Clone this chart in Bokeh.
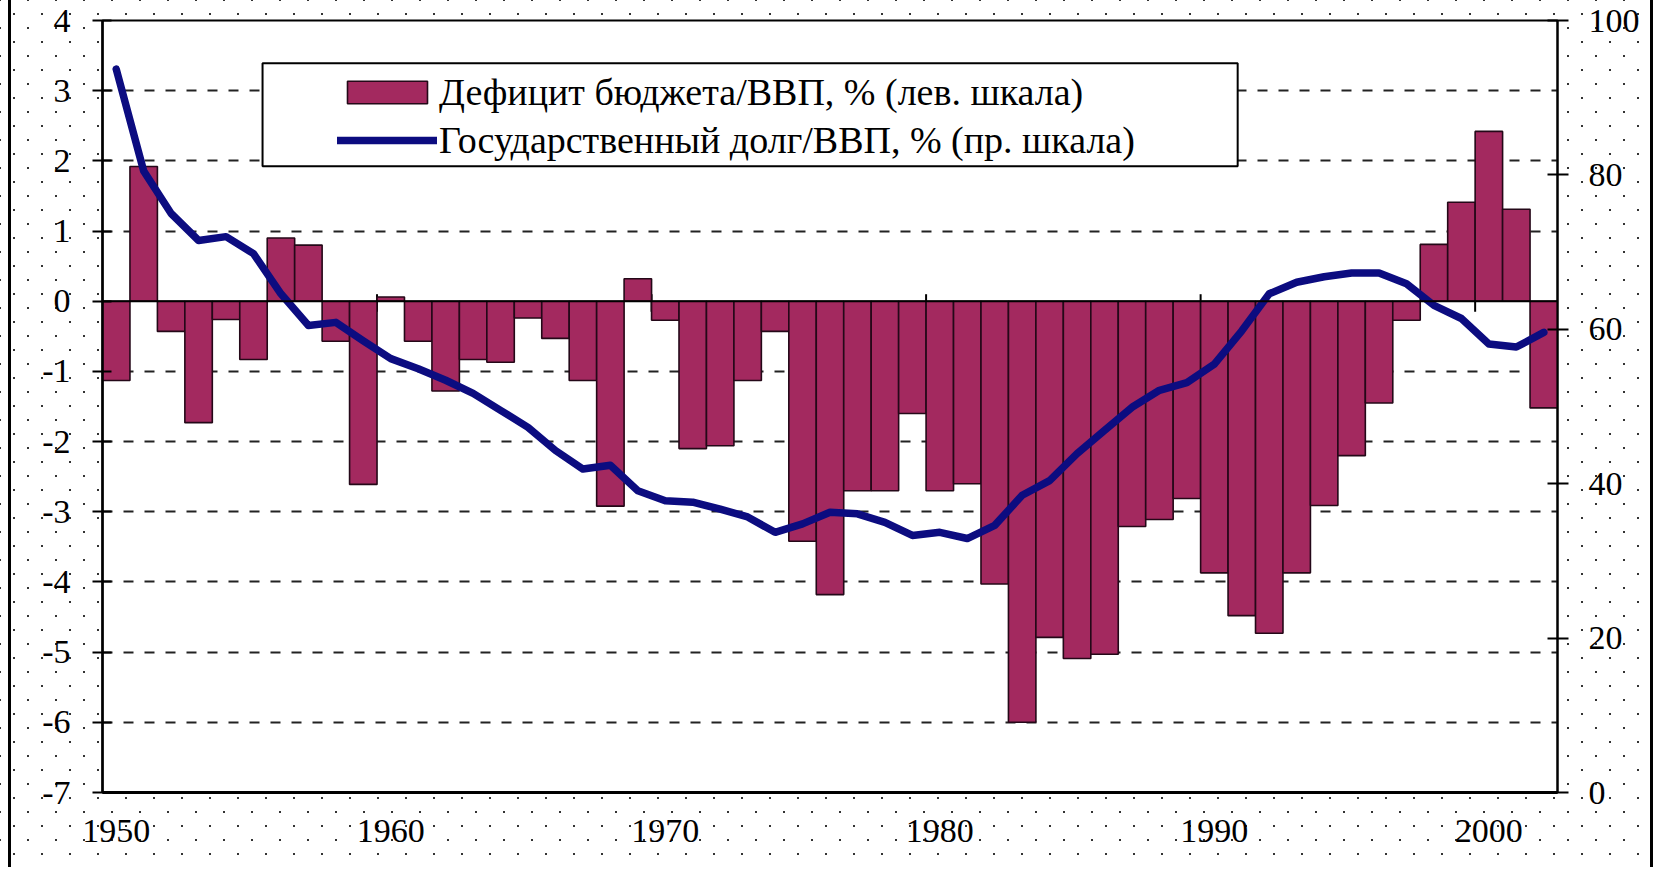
from bokeh.plotting import figure
from bokeh.models import (Range1d, LinearAxis, FixedTicker, Span, Legend, LegendItem,
                          BoxAnnotation, InlineStyleSheet, ColumnDataSource)
from bokeh.embed import file_html
from bokeh.resources import INLINE

years = list(range(1950, 2003))
deficit = [-1.13, 1.92, -0.43, -1.73, -0.26, -0.83, 0.90, 0.80, -0.57, -2.61,
           0.06, -0.57, -1.28, -0.83, -0.87, -0.24, -0.53, -1.13, -2.92, 0.32,
           -0.27, -2.10, -2.06, -1.13, -0.43, -3.42, -4.18, -2.70, -2.70, -1.60,
           -2.70, -2.60, -4.03, -6.00, -4.79, -5.09, -5.03, -3.21, -3.11, -2.81,
           -3.87, -4.48, -4.73, -3.87, -2.91, -2.20, -1.45, -0.27, 0.81, 1.41,
           2.42, 1.31, -1.52]
debt = [93.7, 80.5, 75.0, 71.5, 72.0, 69.8, 64.6, 60.5, 60.9, 58.5,
        56.2, 54.9, 53.4, 51.7, 49.5, 47.3, 44.3, 41.9, 42.4, 39.1,
        37.8, 37.6, 36.7, 35.7, 33.7, 34.8, 36.3, 36.1, 35.0, 33.3,
        33.7, 32.9, 34.6, 38.5, 40.4, 43.9, 46.9, 49.9, 52.1, 53.1,
        55.5, 59.8, 64.6, 66.1, 66.8, 67.3, 67.3, 65.9, 63.1, 61.4,
        58.1, 57.7, 59.6]
left_ticks = list(range(-7, 5))
right_ticks = [0, 20, 40, 60, 80, 100]
year_ticks = [1950, 1960, 1970, 1980, 1990, 2000]
label_deficit = "Дефицит бюджета/ВВП, % (лев. шкала)"
label_debt = "Государственный долг/ВВП, % (пр. шкала)"

FONT = "Liberation Serif"
FS = "34px"
LFS = "38px"

src = ColumnDataSource(dict(year=years, deficit=deficit, debt=debt))

p = figure(width=1654, height=867, output_backend="svg", toolbar_location=None,
           x_range=Range1d(years[0] - 0.5, years[-1] + 0.5),
           y_range=Range1d(left_ticks[0], left_ticks[-1]),
           min_border_left=102, min_border_right=97, min_border_top=20, min_border_bottom=75,
           background_fill_color="white", border_fill_color=None,
           outline_line_color="black", outline_line_width=2)
p.extra_y_ranges = {"debt": Range1d(right_ticks[0], right_ticks[-1])}

p.stylesheets = [InlineStyleSheet(css="""
:host {
  background-color: white;
  background-image:
    linear-gradient(to right, rgba(0,0,0,0) 8px, #000 8px, #000 11px, rgba(0,0,0,0) 11px,
                    rgba(0,0,0,0) calc(100% - 4px), #000 calc(100% - 4px), #000 calc(100% - 1px), rgba(0,0,0,0) calc(100% - 1px)),
    radial-gradient(circle, #333 0.9px, rgba(255,255,255,0) 1.3px),
    radial-gradient(circle, #333 0.9px, rgba(255,255,255,0) 1.3px);
  background-size: 100% 100%, 28px 28px, 28px 28px;
  background-repeat: no-repeat, repeat, repeat;
  background-position: 0px 0px, 0px 0px, 14px 14px;
}
""")]

# grid
p.xgrid.visible = False
p.ygrid.ticker = FixedTicker(ticks=[t for t in left_ticks if t not in (0, left_ticks[0], left_ticks[-1])])
p.ygrid.grid_line_color = "#222222"
p.ygrid.grid_line_width = 2
p.ygrid.grid_line_dash = "10 11"

# decade ticks crossing the zero axis
dec = [y - 0.5 for y in year_ticks[1:]]
p.segment(x0=dec, x1=dec, y0=[-0.15] * len(dec), y1=[0.1] * len(dec),
          line_color="black", line_width=2)

bars = p.vbar(x="year", top="deficit", bottom=0, width=1.0, source=src,
              fill_color="#A3295F", line_color="#240818", line_width=1.6)

p.add_layout(Span(location=0, dimension="width", line_color="black", line_width=2))

line = p.line(x="year", y="debt", y_range_name="debt", source=src,
              line_color="#0C0C80", line_width=7.5, line_join="round", line_cap="round")

# left axis
ya = p.yaxis[0]
ya.ticker = FixedTicker(ticks=left_ticks)
ya.major_label_overrides = {t: str(t) for t in left_ticks}
ya.major_tick_in = 9
ya.major_tick_out = 10
ya.minor_tick_in = 0
ya.minor_tick_out = 0
ya.major_label_standoff = 22
ya.axis_line_width = 2.5
ya.major_tick_line_width = 2

# bottom axis
xa = p.xaxis[0]
xa.ticker = FixedTicker(ticks=year_ticks)
xa.major_tick_in = 0
xa.major_tick_out = 0
xa.minor_tick_in = 0
xa.minor_tick_out = 0
xa.major_label_standoff = 27
xa.axis_line_width = 3

# right axis
ra = LinearAxis(y_range_name="debt", ticker=FixedTicker(ticks=right_ticks))
ra.major_tick_in = 10
ra.major_tick_out = 11
ra.minor_tick_in = 0
ra.minor_tick_out = 0
ra.major_label_standoff = 20
ra.axis_line_width = 2
ra.major_tick_line_width = 2
p.add_layout(ra, "right")

for ax in (ya, xa, ra):
    ax.major_label_text_font = FONT
    ax.major_label_text_font_size = FS
    ax.major_label_text_color = "black"
    ax.axis_line_color = "black"
    ax.major_tick_line_color = "black"

# legend frame
p.add_layout(BoxAnnotation(left=1955.33, right=1990.85, top=3.39, bottom=1.924,
                           fill_color="white", fill_alpha=1.0,
                           line_color="black", line_width=2, line_alpha=1.0))

legend = Legend(items=[LegendItem(label=label_deficit, renderers=[bars]),
                       LegendItem(label=label_debt, renderers=[line])],
                location=(235, 630), padding=0, margin=0, spacing=4,
                glyph_width=100, glyph_height=28, label_height=28, label_standoff=2,
                border_line_color=None, background_fill_alpha=0.0,
                label_text_font=FONT, label_text_font_size=LFS, label_text_color="black")
p.add_layout(legend)

open("out.html", "w").write(file_html(p, INLINE))
